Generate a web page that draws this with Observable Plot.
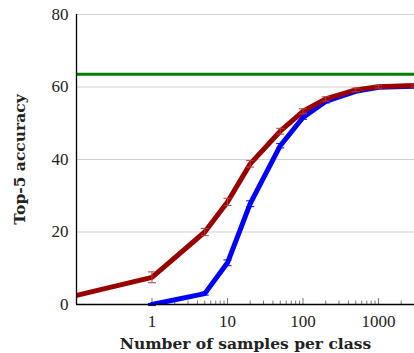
<!DOCTYPE html>
<html>
<head>
<meta charset="utf-8">
<script src="https://cdn.jsdelivr.net/npm/d3@7"></script>
<script src="https://cdn.jsdelivr.net/npm/@observablehq/plot@0.6"></script>
<style>
  body { margin: 0; background: #fff; }
  #chart svg { font-family: "Liberation Serif", serif; }
  #chart [aria-label="x-axis label"] text, #chart [aria-label="y-axis label"] text { font-family: "DejaVu Serif", serif; font-weight: bold; font-size: 15.5px; }
  #chart [aria-label="x-axis tick label"] text, #chart [aria-label="y-axis tick label"] text { font-size: 17px; }
</style>
</head>
<body>
<div id="chart"></div>
<script>
const redSamples = [0.1, 1, 5, 10, 20, 50, 100, 200, 500, 1000, 3000];
const redAcc     = [2.5, 7.5, 20, 28.3, 38.8, 47.8, 53.3, 56.7, 59.2, 60.1, 60.4];
const redErr     = [0, 1.5, 1.0, 1.0, 0.9, 0.8, 0.7, 0.6, 0.5, 0.4, 0.4];
const blueSamples = [1, 5, 10, 20, 50, 100, 200, 500, 1000, 3000];
const blueAcc     = [0, 3, 11.5, 27.8, 43.8, 51.6, 56.0, 58.8, 59.9, 60.2];
const blueErr     = [0.3, 0.4, 0.8, 0.8, 0.6, 0.5, 0.4, 0.3, 0.3, 0.3];
const greenLevel = 63.5;
const yTicks = [0, 20, 40, 60, 80];
const xMajor = [1, 10, 100, 1000];
const xMinor = [2,3,4,5,6,7,8,9,20,30,40,50,60,70,80,90,200,300,400,500,600,700,800,900,2000];

const red = redSamples.map((x, i) => ({x, y: redAcc[i], e: redErr[i]}));
const blue = blueSamples.map((x, i) => ({x, y: blueAcc[i], e: blueErr[i]}));

const cap = {draw(ctx, size) { const w = Math.sqrt(size); ctx.moveTo(-w, 0); ctx.lineTo(w, 0); }};

function errMarks(data, color) {
  const d = data.filter(p => p.e > 0);
  return [
    Plot.ruleX(d, {x: "x", y1: p => p.y - p.e, y2: p => p.y + p.e, stroke: color, strokeWidth: 1}),
    Plot.dot(d, {x: "x", y: p => p.y + p.e, symbol: cap, r: 2.3, stroke: color, fill: "none", strokeWidth: 1}),
    Plot.dot(d, {x: "x", y: p => p.y - p.e, symbol: cap, r: 2.3, stroke: color, fill: "none", strokeWidth: 1})
  ];
}

const plot = Plot.plot({
  width: 414,
  height: 353,
  marginLeft: 76,
  marginRight: 0,
  marginTop: 14,
  marginBottom: 49,
  style: {fontSize: "16px", color: "#222"},
  x: {type: "log", domain: [0.1, 3000]},
  y: {domain: [0, 80]},
  marks: [
    Plot.gridY(yTicks, {stroke: "#d0d0d0", strokeOpacity: 1, strokeWidth: 1.2}),
    Plot.axisY(yTicks, {tickSize: 0, tickPadding: 8, label: "Top-5 accuracy", labelAnchor: "center", labelArrow: "none", labelOffset: 63}),
    Plot.axisX(xMajor, {tickSize: -6, tickPadding: 16, tickFormat: d => String(d), label: "Number of samples per class", labelAnchor: "center", labelArrow: "none", labelOffset: 44, stroke: "#777"}),
    Plot.axisX(xMinor, {tickSize: -3.5, tickFormat: () => "", label: null, stroke: "#777"}),
    Plot.ruleY([greenLevel], {stroke: "#008000", strokeWidth: 3}),
    Plot.line(blue, {x: "x", y: "y", stroke: "#0000ff", strokeWidth: 5, clip: true}),
    ...errMarks(blue, "#0000ff"),
    Plot.line(red, {x: "x", y: "y", stroke: "#990000", strokeWidth: 5, clip: true}),
    ...errMarks(red, "#b04040"),
    Plot.ruleX([0.1], {stroke: "#000", strokeWidth: 1.3}),
    Plot.ruleY([0], {stroke: "#000", strokeWidth: 1.3})
  ]
});
document.getElementById("chart").appendChild(plot);
</script>
</body>
</html>
